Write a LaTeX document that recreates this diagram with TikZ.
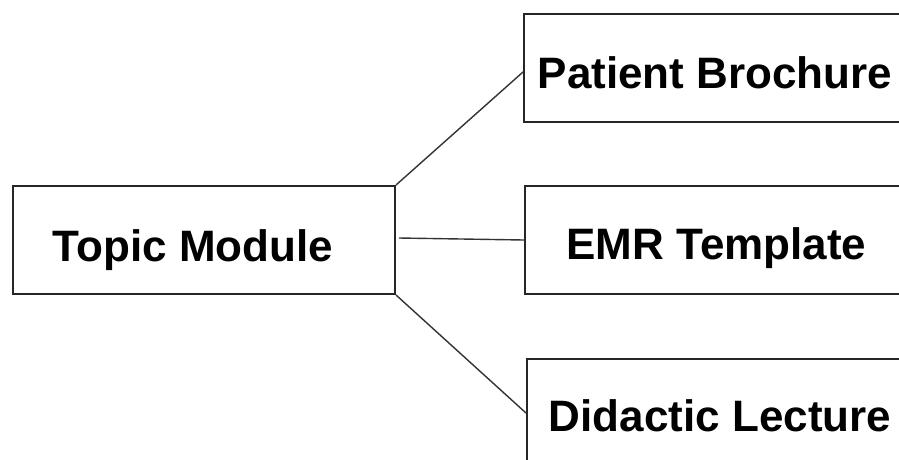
\documentclass[tikz,border=0pt]{standalone}
\usepackage{fontspec}
\setmainfont{Liberation Sans}
\begin{document}
\begin{tikzpicture}[x=1pt,y=-1pt,
  boxstyle/.style={draw=black!85,line width=2pt,rectangle,minimum width=382pt,minimum height=108pt,inner sep=0pt},
  labelstyle/.style={anchor=base,inner sep=0pt,font=\fontsize{44}{50}\selectfont\bfseries},
  linkstyle/.style={draw=black!80,line width=1.4pt}]
\clip (0,0) rectangle (899,459);
\fill[white] (0,0) rectangle (899,459);
\node[boxstyle] (topic) at (204,240) {};
\node[boxstyle] (pb) at (715,68) {};
\node[boxstyle] (emr) at (716,240) {};
\node[boxstyle] (dl) at (718,413) {};
\node[labelstyle] (topict) at (193,261) {Topic Module};
\node[labelstyle] (pbt) at (715,88) {Patient Brochure};
\node[labelstyle] (emrt) at (716.5,259) {EMR Template};
\node[labelstyle] (dlt) at (720,431) {Didactic Lecture};
\draw[linkstyle] (topic.north east) -- ([yshift=-4pt]pb.west);
\draw[linkstyle] ([xshift=3pt,yshift=2pt]topic.east) -- (emr.west);
\draw[linkstyle] (topic.south east) -- (dl.west);
\end{tikzpicture}
\end{document}
